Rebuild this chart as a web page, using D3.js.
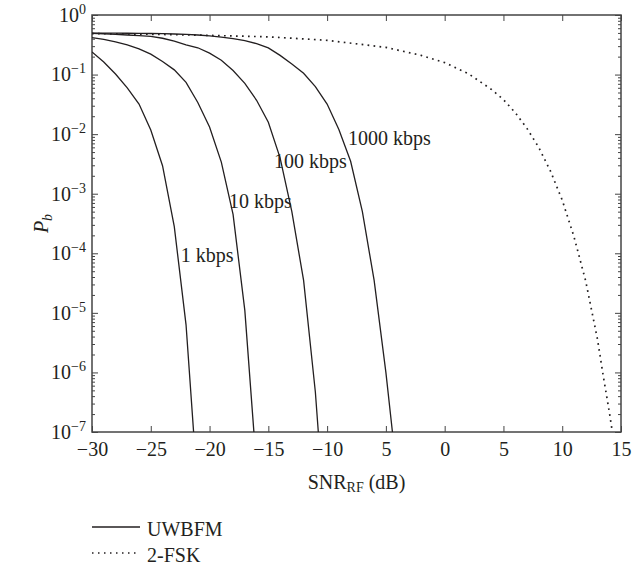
<!DOCTYPE html>
<html>
<head>
<meta charset="utf-8">
<script src="https://cdn.jsdelivr.net/npm/d3@7.9.0/dist/d3.min.js"></script>
<style>
  body { margin: 0; background: #fff; }
  svg { display: block; font-family: "Liberation Serif", "DejaVu Serif", serif; }
</style>
</head>
<body>
<svg width="639" height="566"></svg>
<script>
// SNR_RF (dB) and bit error probability
const snr1 = [-30, -29, -28, -27, -26, -25, -24, -23, -22, -21];
const pb1 = [0.24, 0.162, 0.102, 0.060, 0.032, 0.0117, 2.95e-3, 2.8e-4, 6.3e-6, 1e-8];

const snr10 = [-30, -29, -28, -27, -26, -25, -24, -23, -22, -21, -20, -19, -18, -17, -16];
const pb10 = [0.417, 0.39, 0.355, 0.316, 0.27, 0.22, 0.166, 0.12, 0.074, 0.034, 0.0132, 3.4e-3, 4.5e-4, 1.1e-5, 2.5e-8];

const snr100 = [-30, -29, -28, -27, -26, -25, -24, -23, -22, -21, -20, -19, -18, -17, -16, -15, -14, -13, -12, -11, -10];
const pb100 = [0.49, 0.484, 0.473, 0.462, 0.452, 0.437, 0.407, 0.363, 0.316, 0.282, 0.229, 0.174, 0.117, 0.071, 0.037, 0.0158, 4.0e-3, 5.0e-4, 3.5e-5, 4.7e-7, 1e-9];

const snr1000 = [-30, -29, -28, -27, -26, -25, -24, -23, -22, -21, -20, -19, -18, -17, -16, -15, -14, -13, -12, -11, -10, -9, -8, -7, -6, -5, -4];
const pb1000 = [0.498, 0.497, 0.496, 0.494, 0.492, 0.489, 0.485, 0.48, 0.473, 0.462, 0.445, 0.425, 0.40, 0.37, 0.33, 0.28, 0.21, 0.15, 0.105, 0.063, 0.032, 0.012, 3.5e-3, 5.0e-4, 3.5e-5, 1.0e-6, 1.6e-8];

const snrFsk = [-30, -25, -20, -15, -10, -5, -2, 0, 2, 4, 5, 6, 7, 8, 9, 10, 11, 12, 13, 13.5, 14, 14.5];
const pbFsk = [0.487, 0.475, 0.455, 0.43, 0.376, 0.286, 0.21, 0.159, 0.104, 0.056, 0.038, 0.023, 0.0125, 6.0e-3, 2.4e-3, 7.8e-4, 1.9e-4, 3.4e-5, 3.6e-6, 8.5e-7, 2.2e-7, 5e-8];

const rateLabels = ["1 kbps", "10 kbps", "100 kbps", "1000 kbps"];
const xTicks = [-30, -25, -20, -15, -10, -5, 0, 5, 10, 15];
const xTickLabels = ["\u221230", "\u221225", "\u221220", "\u221215", "\u221210", "5", "0", "5", "10", "15"];
const yExponents = [0, -1, -2, -3, -4, -5, -6, -7];
const legendLabels = ["UWBFM", "2-FSK"];

const svg = d3.select("svg");
const margin = { top: 15, right: 18, bottom: 134, left: 92 };
const width = +svg.attr("width");
const height = +svg.attr("height");
const innerW = width - margin.left - margin.right;
const innerH = height - margin.top - margin.bottom;
const ink = "#231f20";

const x = d3.scaleLinear().domain([-30, 15]).range([margin.left, margin.left + innerW]);
const y = d3.scaleLog().domain([1e-7, 1]).range([margin.top + innerH, margin.top]);

svg.append("clipPath").attr("id", "plot")
  .append("rect")
  .attr("x", margin.left).attr("y", margin.top)
  .attr("width", innerW).attr("height", innerH);

// minor log ticks
const decades = yExponents.map(e => Math.pow(10, e));
const minors = [];
for (let e = -7; e < 0; e++) {
  for (let k = 2; k <= 9; k++) minors.push(k * Math.pow(10, e));
}

function styleAxis(g) {
  g.select(".domain").remove();
  g.selectAll("line").attr("stroke", "#444").attr("stroke-width", 1);
  g.attr("font-family", null).attr("font-size", 20);
  g.selectAll("text").attr("fill", ink);
}

// bottom / top
svg.append("g")
  .attr("transform", `translate(0,${margin.top + innerH})`)
  .call(d3.axisBottom(x).tickValues(xTicks).tickSize(-6).tickPadding(10)
    .tickFormat((d, i) => xTickLabels[i]))
  .call(styleAxis);
svg.append("g")
  .attr("transform", `translate(0,${margin.top})`)
  .call(d3.axisTop(x).tickValues(xTicks).tickSize(-6).tickFormat(""))
  .call(styleAxis);

// left / right majors and minors
const left = svg.append("g")
  .attr("transform", `translate(${margin.left},0)`)
  .call(d3.axisLeft(y).tickValues(decades).tickSize(-6).tickPadding(6).tickFormat(""))
  .call(styleAxis);
left.selectAll(".tick text").each(function(d) {
  const t = d3.select(this);
  t.text("10");
  t.append("tspan").attr("dy", -8).attr("font-size", 14)
    .text(Math.round(Math.log10(d)) === 0 ? "0" : "\u2212" + Math.abs(Math.round(Math.log10(d))));
});
svg.append("g")
  .attr("transform", `translate(${margin.left},0)`)
  .call(d3.axisLeft(y).tickValues(minors).tickSize(-3).tickFormat(""))
  .call(styleAxis);
svg.append("g")
  .attr("transform", `translate(${margin.left + innerW},0)`)
  .call(d3.axisRight(y).tickValues(decades).tickSize(-6).tickFormat(""))
  .call(styleAxis);
svg.append("g")
  .attr("transform", `translate(${margin.left + innerW},0)`)
  .call(d3.axisRight(y).tickValues(minors).tickSize(-3).tickFormat(""))
  .call(styleAxis);

// frame
svg.append("rect")
  .attr("x", margin.left).attr("y", margin.top)
  .attr("width", innerW).attr("height", innerH)
  .attr("fill", "none").attr("stroke", "#444").attr("stroke-width", 1.5);

// curves
const line = d3.line().x(d => x(d[0])).y(d => y(d[1]));
const uwb = [
  d3.zip(snr1, pb1),
  d3.zip(snr10, pb10),
  d3.zip(snr100, pb100),
  d3.zip(snr1000, pb1000)
];
const curves = svg.append("g").attr("clip-path", "url(#plot)");
curves.selectAll("path.uwb")
  .data(uwb)
  .join("path")
  .attr("class", "uwb")
  .attr("fill", "none")
  .attr("stroke", ink)
  .attr("stroke-width", 1.3)
  .attr("d", line);
curves.append("path")
  .datum(d3.zip(snrFsk, pbFsk))
  .attr("fill", "none")
  .attr("stroke", ink)
  .attr("stroke-width", 1.7)
  .attr("stroke-dasharray", "1.7,4.3")
  .attr("d", line);

// rate annotations (anchored in data units)
const labelAt = [[-22.46, -4.14], [-18.35, -3.24], [-14.52, -2.57], [-8.22, -2.18]];
svg.selectAll("text.rate")
  .data(rateLabels)
  .join("text")
  .attr("class", "rate")
  .attr("x", (d, i) => x(labelAt[i][0]))
  .attr("y", (d, i) => y(Math.pow(10, labelAt[i][1])))
  .attr("font-size", 20)
  .attr("fill", ink)
  .text(d => d);

// axis titles
const xt = svg.append("text")
  .attr("x", margin.left + innerW / 2)
  .attr("y", 489)
  .attr("text-anchor", "middle")
  .attr("font-size", 20)
  .attr("fill", ink);
xt.append("tspan").text("SNR");
xt.append("tspan").attr("font-size", 14).attr("dy", 3).text("RF");
xt.append("tspan").attr("dy", -3).text(" (dB)");

const yt = svg.append("text")
  .attr("transform", `translate(48,${margin.top + innerH / 2}) rotate(-90)`)
  .attr("text-anchor", "middle")
  .attr("font-size", 20)
  .attr("font-style", "italic")
  .attr("fill", ink);
yt.append("tspan").text("P");
yt.append("tspan").attr("font-size", 14).attr("dy", 4).text("b");

// legend
const legend = svg.append("g").attr("transform", `translate(${margin.left},527)`);
legendLabels.forEach((name, i) => {
  const g = legend.append("g").attr("transform", `translate(0,${i * 26})`);
  g.append("line")
    .attr("x1", 0).attr("x2", 48)
    .attr("stroke", ink)
    .attr("stroke-width", i === 0 ? 1.3 : 1.5)
    .attr("stroke-dasharray", i === 0 ? null : "1.5,4.5");
  g.append("text")
    .attr("x", 55).attr("y", 9)
    .attr("font-size", 20)
    .attr("fill", ink)
    .text(name);
});
</script>
</body>
</html>
